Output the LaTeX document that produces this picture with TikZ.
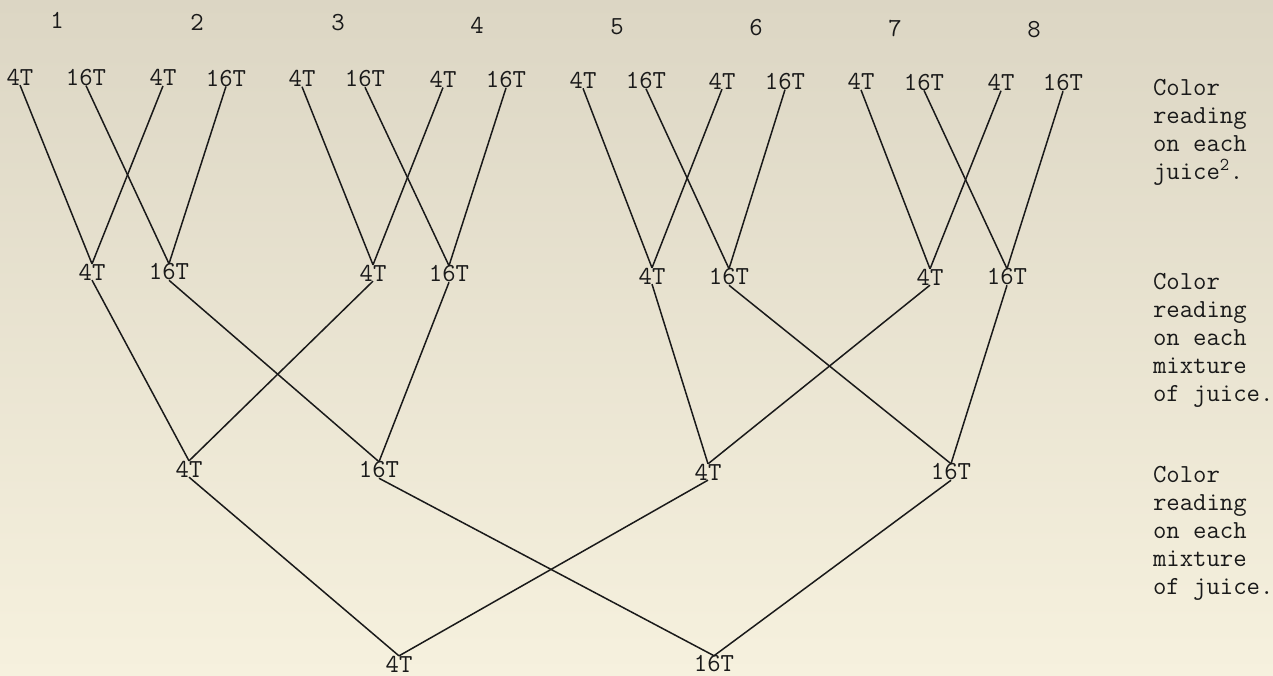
\documentclass[tikz,border=0pt]{standalone}
\usepackage{fontspec}
\definecolor{ink}{HTML}{1A1A1A}
\definecolor{paperTop}{RGB}{220,214,196}
\definecolor{paperBot}{RGB}{246,241,222}
\begin{document}
\begin{tikzpicture}[x=1pt,y=-1pt,
  lbl/.style={inner sep=0pt, outer sep=0pt, font=\ttfamily\fontsize{26}{28}\selectfont, text=ink},
  ln/.style={draw=ink, line width=1.5pt},
  note/.style={lbl, align=left, anchor=north west}]
\useasboundingbox (0,0) rectangle (1273,676);
\shade[top color=paperTop, bottom color=paperBot] (0,0) rectangle (1273,676);

% sample numbers
\node[lbl] (n1) at (57,20) {1};
\node[lbl] (n2) at (197,22) {2};
\node[lbl] (n3) at (338,23) {3};
\node[lbl] (n4) at (477,25) {4};
\node[lbl] (n5) at (617,27) {5};
\node[lbl] (n6) at (756,28) {6};
\node[lbl] (n7) at (895,29) {7};
\node[lbl] (n8) at (1034,30) {8};

% top row
\node[lbl] (a1) at (20,77) {4T};
\node[lbl] (b1) at (86,77.4) {16T};
\node[lbl] (a2) at (163,77.8) {4T};
\node[lbl] (b2) at (226,78.2) {16T};
\node[lbl] (a3) at (302,78.6) {4T};
\node[lbl] (b3) at (365,79) {16T};
\node[lbl] (a4) at (443,79.4) {4T};
\node[lbl] (b4) at (506,79.8) {16T};
\node[lbl] (a5) at (583,80.2) {4T};
\node[lbl] (b5) at (646,80.6) {16T};
\node[lbl] (a6) at (722,81) {4T};
\node[lbl] (b6) at (785,81.4) {16T};
\node[lbl] (a7) at (861,81.8) {4T};
\node[lbl] (b7) at (924,82.2) {16T};
\node[lbl] (a8) at (1001,82.6) {4T};
\node[lbl] (b8) at (1063,83) {16T};

% second row
\node[lbl] (mA) at (92,272) {4T};
\node[lbl] (pA) at (169,272) {16T};
\node[lbl] (mB) at (373,273) {4T};
\node[lbl] (pB) at (449,274) {16T};
\node[lbl] (mC) at (652,276) {4T};
\node[lbl] (pC) at (729,277) {16T};
\node[lbl] (mD) at (930,277) {4T};
\node[lbl] (pD) at (1007,277) {16T};

% third row
\node[lbl] (mAB) at (189,469) {4T};
\node[lbl] (pAB) at (379,470) {16T};
\node[lbl] (mCD) at (708,472) {4T};
\node[lbl] (pCD) at (951,472) {16T};

% bottom row
\node[lbl] (mF) at (399,664) {4T};
\node[lbl] (pF) at (714,664) {16T};

% right-hand notes
\node[note] (r1) at (1153,79) {Color\\reading\\on each\\juice\textsuperscript{2}.};
\node[note] (r2) at (1153,273) {Color\\reading\\on each\\mixture\\of juice.};
\node[note] (r3) at (1153,466) {Color\\reading\\on each\\mixture\\of juice.};

% connectors: top -> second
\foreach \g/\h/\c in {1/2/A,3/4/B,5/6/C,7/8/D}{
  \draw[ln] (a\g.south) -- (m\c.north);
  \draw[ln] (a\h.south) -- (m\c.north);
  \draw[ln] (b\g.south) -- (p\c.north);
  \draw[ln] (b\h.south) -- (p\c.north);
}
% second -> third
\draw[ln] (mA.south) -- (mAB.north);
\draw[ln] (mB.south) -- (mAB.north);
\draw[ln] (pA.south) -- (pAB.north);
\draw[ln] (pB.south) -- (pAB.north);
\draw[ln] (mC.south) -- (mCD.north);
\draw[ln] (mD.south) -- (mCD.north);
\draw[ln] (pC.south) -- (pCD.north);
\draw[ln] (pD.south) -- (pCD.north);
% third -> bottom
\draw[ln] (mAB.south) -- (mF.north);
\draw[ln] (mCD.south) -- (mF.north);
\draw[ln] (pAB.south) -- (pF.north);
\draw[ln] (pCD.south) -- (pF.north);
\end{tikzpicture}
\end{document}
